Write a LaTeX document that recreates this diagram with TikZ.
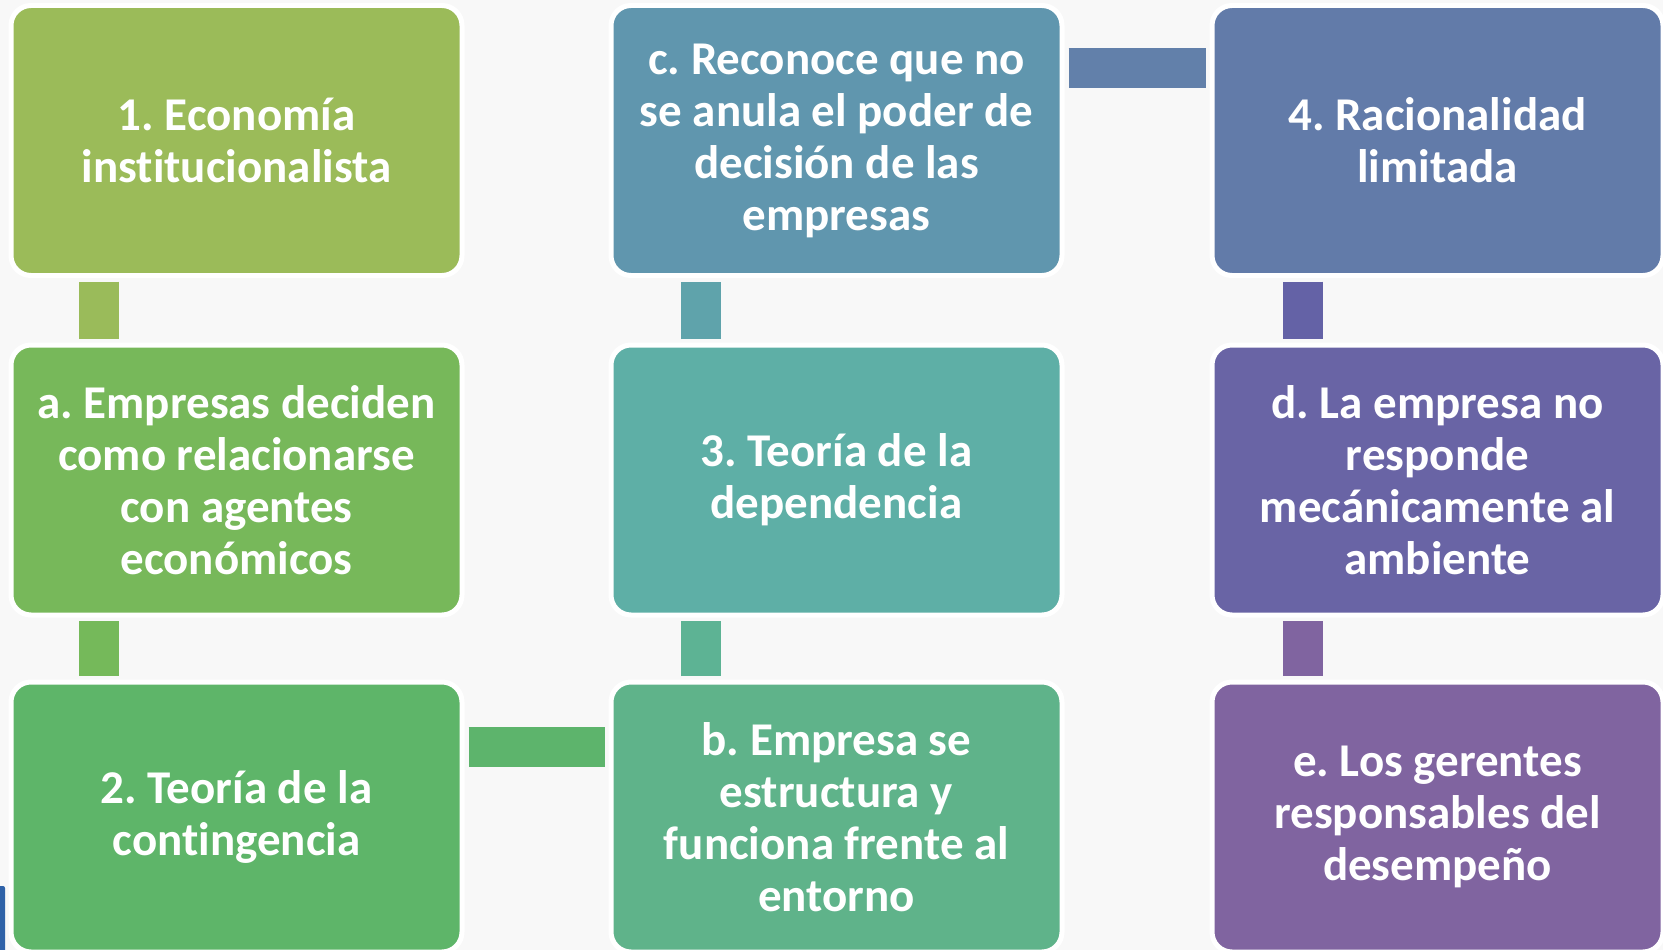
\documentclass[tikz,border=0pt]{standalone}
\usepackage{fontspec}
\setmainfont{Carlito}[RawFeature=-liga]
\definecolor{bgc}{HTML}{F8F8F8}
\definecolor{cA}{HTML}{9BBB59}
\definecolor{cAb}{HTML}{9ABB5A}
\definecolor{cB}{HTML}{77B85A}
\definecolor{cBb}{HTML}{75B95A}
\definecolor{cC}{HTML}{5EB569}
\definecolor{cCb}{HTML}{5DB46C}
\definecolor{cD}{HTML}{5FB38A}
\definecolor{cDb}{HTML}{5DB394}
\definecolor{cE}{HTML}{5EAFA6}
\definecolor{cEb}{HTML}{5FA3AB}
\definecolor{cF}{HTML}{6096AE}
\definecolor{cFb}{HTML}{6280AA}
\definecolor{cG}{HTML}{627BA9}
\definecolor{cGb}{HTML}{6462A6}
\definecolor{cH}{HTML}{6964A5}
\definecolor{cHb}{HTML}{8064A0}
\definecolor{cI}{HTML}{8064A0}
\definecolor{artblue}{HTML}{2F62A8}
\begin{document}
\frenchspacing
\begin{tikzpicture}[x=1pt,y=-1pt,
  box/.style={rounded corners=20pt, draw=white, line width=5pt,
    minimum width=451pt, minimum height=270pt, text=white,
    font=\fontsize{47}{52}\selectfont\bfseries\frenchspacing, align=center, inner sep=0pt},
  vbar/.style={line width=40pt, shorten <=3.5pt, shorten >=3.5pt},
  hbar/.style={line width=40pt, shorten <=4pt, shorten >=3.5pt}]
\useasboundingbox (0,0) rectangle (1663,950);
\clip (0,0) rectangle (1663,950);
\fill[bgc] (0,0) rectangle (1663,950);
\fill[artblue, rounded corners=2pt] (-3,886) rectangle (5,955);
% column 1
\node[box, fill=cA] (n1) at (236.5,140.5) {1. Economía\\institucionalista};
\node[box, fill=cB] (na) at (236.5,480) {a. Empresas deciden\\como relacionarse\\con agentes\\económicos};
\node[box, fill=cC] (n2) at (236.5,817) {2. Teoría de la\\contingencia};
% column 2
\node[box, fill=cF] (nc) at (836.5,140.5) {c. Reconoce que no\\se anula el poder de\\decisión de las\\empresas};
\node[box, fill=cE] (n3) at (836.5,480) {3. Teoría de la\\dependencia};
\node[box, fill=cD] (nb) at (836.5,817) {b. Empresa se\\estructura y\\funciona frente al\\entorno};
% column 3
\node[box, fill=cG] (n4) at (1437.5,140.5) {4. Racionalidad\\limitada};
\node[box, fill=cH] (nd) at (1437.5,480) {d. La empresa no\\responde\\mecánicamente al\\ambiente};
\node[box, fill=cI] (ne) at (1437.5,817) {e. Los gerentes\\responsables del\\desempeño};
% connectors
\draw[vbar, cAb] ([xshift=90.5pt]n1.south west) -- ([xshift=90.5pt]na.north west);
\draw[vbar, cBb] ([xshift=90.5pt]na.south west) -- ([xshift=90.5pt]n2.north west);
\draw[hbar, cCb] ([yshift=-67pt]n2.north east) -- ([yshift=-67pt]nb.north west);
\draw[vbar, cDb] ([xshift=92.5pt]nb.north west) -- ([xshift=92.5pt]n3.south west);
\draw[vbar, cEb] ([xshift=92.5pt]n3.north west) -- ([xshift=92.5pt]nc.south west);
\draw[hbar, cFb] ([yshift=-65pt]nc.north east) -- ([yshift=-65pt]n4.north west);
\draw[vbar, cGb] ([xshift=93.5pt]n4.south west) -- ([xshift=93.5pt]nd.north west);
\draw[vbar, cHb] ([xshift=93.5pt]nd.south west) -- ([xshift=93.5pt]ne.north west);
\end{tikzpicture}
\end{document}
